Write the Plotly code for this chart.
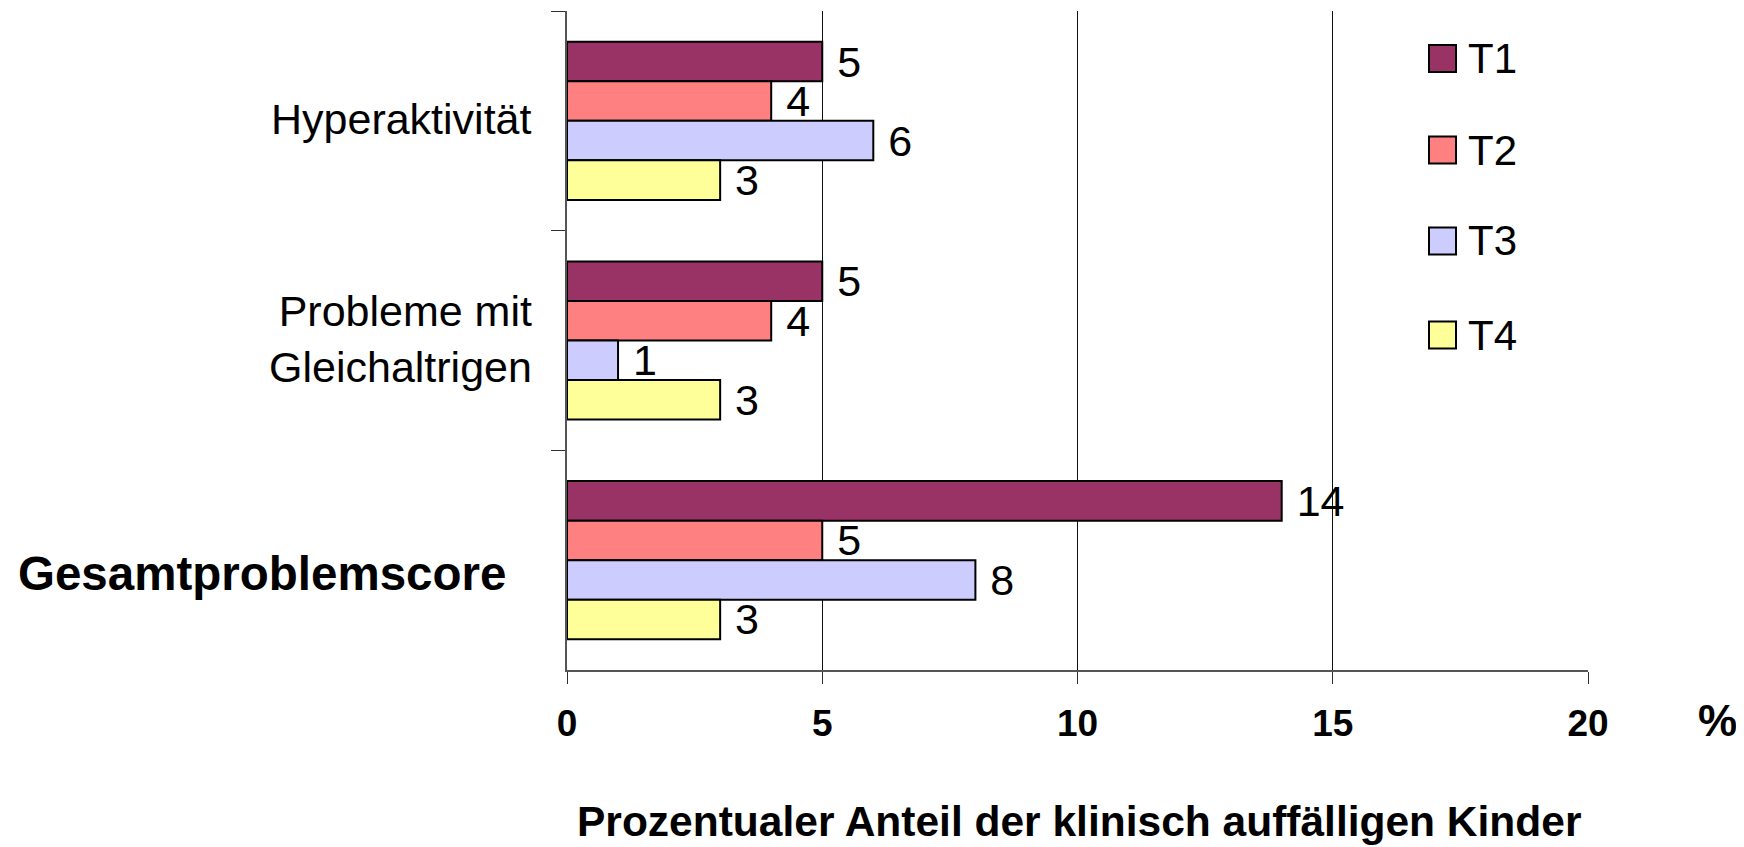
import plotly.graph_objects as go

# ---- data ----
categories = ["Hyperaktivität", "Probleme mit Gleichaltrigen", "Gesamtproblemscore"]
category_labels = ["Hyperaktivität", "Probleme mit<br>Gleichaltrigen", "<b>Gesamtproblemscore</b>"]
series_names = ["T1", "T2", "T3", "T4"]
t1_values = [5, 5, 14]
t2_values = [4, 4, 5]
t3_values = [6, 1, 8]
t4_values = [3, 3, 3]
x_tick_values = [0, 5, 10, 15, 20]
x_axis_title = "Prozentualer Anteil der klinisch auffälligen Kinder"
x_unit = "%"

colors = ["#993366", "#FF8080", "#CCCCFF", "#FFFF99"]
series_values = [t1_values, t2_values, t3_values, t4_values]

# ---- geometry (page pixels; the page body adds an 8px offset) ----
OFF = 8
PAGE_W, PAGE_H = 1744, 847
W, H = PAGE_W - OFF, PAGE_H - OFF
PLOT_X0, PLOT_X1 = 567, 1588   # page px
PLOT_Y0, PLOT_Y1 = 11, 670     # page px
L = PLOT_X0 - OFF
T = PLOT_Y0 - OFF
R = W - (PLOT_X1 - OFF)
B = H - (PLOT_Y1 - OFF)
PW = PLOT_X1 - PLOT_X0
PH = PLOT_Y1 - PLOT_Y0
FONT = "Liberation Sans, Arial, sans-serif"


def px_x(px):
    return (px - PLOT_X0) / PW


def px_y(py):
    return (PLOT_Y1 - py) / PH


fig = go.Figure()
for name, vals, col in zip(series_names, series_values, colors):
    fig.add_trace(go.Bar(
        y=categories, x=vals, orientation="h", name=name,
        marker=dict(color=col, line=dict(color="black", width=2)),
        texttemplate="\u00a0%{x}", textposition="outside",
        constraintext="none", cliponaxis=False,
        textfont=dict(family=FONT, size=43, color="black"),
        showlegend=False, hoverinfo="x+name",
    ))

annotations = []
# category labels
label_right_px = [534, 534, 508]
label_yshift = [1.5, 2, -13]
label_sizes = [43, 43, 47.5]
for cat, lab, rx, ys, fs in zip(categories, category_labels, label_right_px, label_yshift, label_sizes):
    annotations.append(dict(
        x=px_x(rx), xref="paper", y=cat, yref="y", text=lab, showarrow=False,
        xanchor="right", yanchor="middle", yshift=ys, align="right",
        font=dict(family=FONT, size=fs, color="black")))

# axis title and unit
annotations.append(dict(x=px_x(1079), xref="paper", y=0, yref="paper", yshift=-(821 - PLOT_Y1),
                        text="<b>" + x_axis_title + "</b>", showarrow=False,
                        xanchor="center", yanchor="middle",
                        font=dict(family=FONT, size=42.5, color="black")))
annotations.append(dict(x=px_x(1717), xref="paper", y=0, yref="paper", yshift=-(720 - PLOT_Y1),
                        text="<b>" + x_unit + "</b>", showarrow=False,
                        xanchor="center", yanchor="middle",
                        font=dict(family=FONT, size=44, color="black")))

# legend drawn next to the plot
shapes = []
legend_centers = [58.5, 150, 241, 335]
for name, col, cy in zip(series_names, colors, legend_centers):
    shapes.append(dict(type="rect", xref="paper", yref="paper",
                       x0=px_x(1429), x1=px_x(1456), y0=px_y(cy + 13.5), y1=px_y(cy - 13.5),
                       fillcolor=col, line=dict(color="black", width=2)))
    annotations.append(dict(x=px_x(1466), xref="paper", y=px_y(cy), yref="paper",
                            text=name, showarrow=False, xanchor="left", yanchor="middle",
                            font=dict(family=FONT, size=42, color="black")))

fig.update_layout(
    width=W, height=H,
    margin=dict(l=L, r=R, t=T, b=B, pad=0),
    paper_bgcolor="white", plot_bgcolor="white",
    barmode="group", bargap=0.28, bargroupgap=0,
    showlegend=False,
    annotations=annotations, shapes=shapes,
    font=dict(family=FONT, color="black"),
)
fig.update_xaxes(
    range=[0, 20], tickvals=x_tick_values, ticks="outside", ticklen=12,
    tickcolor="#303030", tickwidth=1,
    showgrid=True, gridcolor="#111111", gridwidth=1, zeroline=False,
    showline=True, linecolor="#555555", linewidth=2,
    tickfont=dict(family=FONT, size=37, color="black", weight="bold"),
    ticklabelstandoff=8,
)
fig.update_yaxes(
    type="category", categoryorder="array", categoryarray=categories,
    autorange="reversed", tickson="boundaries", ticks="outside", ticklen=14,
    tickcolor="#303030", tickwidth=1, showticklabels=False,
    showgrid=False, zeroline=False, showline=True, linecolor="#555555", linewidth=2,
)

fig.write_html("out.html")
